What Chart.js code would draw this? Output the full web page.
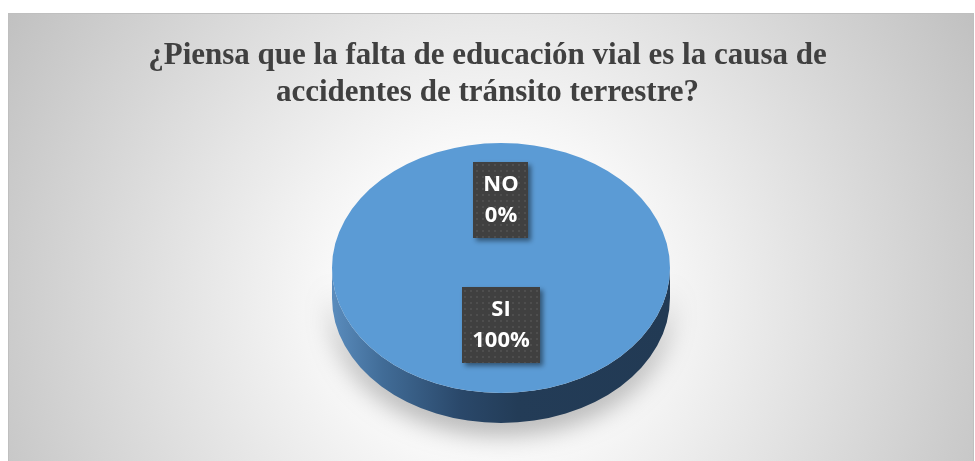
<!DOCTYPE html>
<html>
<head>
<meta charset="utf-8">
<script src="https://cdn.jsdelivr.net/npm/chart.js@4/dist/chart.umd.min.js"></script>
<style>
  html, body { margin: 0; padding: 0; background: #ffffff; }
  #wrap { position: relative; width: 975px; height: 461px; }
</style>
</head>
<body>
<div id="wrap"><canvas id="c" width="975" height="461"></canvas></div>
<script>
const titleLines = ['¿Piensa que la falta de educación vial es la causa de', 'accidentes de tránsito terrestre?'];
const categories = ['SI', 'NO'];
const values = [100, 0];
const percentLabels = ['100%', '0%'];

// visual styling
const FRAME = { left: 8, top: 13, right: 974, bottom: 461 };
const ELLIPSE = { cx: 501, cy: 268, rx: 169, ry: 125, depth: 30 };
const LABEL_SHIFT_Y = -6;

function makeDotPattern(ctx) {
  const p = document.createElement('canvas');
  p.width = 6; p.height = 6;
  const g = p.getContext('2d');
  g.fillStyle = '#404040';
  g.fillRect(0, 0, 6, 6);
  g.fillStyle = '#4e4e4e';
  g.fillRect(2, 2, 2, 2);
  return ctx.createPattern(p, 'repeat');
}

const pie3d = {
  id: 'pie3d',
  beforeDraw(chart) {
    const ctx = chart.ctx;
    ctx.save();
    ctx.fillStyle = '#ffffff';
    ctx.fillRect(0, 0, chart.width, chart.height);
    const g = ctx.createRadialGradient(490, 300, 0, 490, 300, 565);
    g.addColorStop(0, '#ffffff');
    g.addColorStop(0.25, '#fbfbfb');
    g.addColorStop(1, '#c0c0c0');
    ctx.fillStyle = g;
    ctx.fillRect(FRAME.left, FRAME.top, FRAME.right - FRAME.left, FRAME.bottom - FRAME.top);
    ctx.strokeStyle = '#bfbfbf';
    ctx.lineWidth = 1;
    ctx.strokeRect(FRAME.left + 0.5, FRAME.top + 0.5, FRAME.right - FRAME.left - 1, FRAME.bottom - FRAME.top + 2);
    ctx.restore();
  },
  beforeDatasetsDraw(chart) {
    const ctx = chart.ctx;
    const arc = chart.getDatasetMeta(0).data[0];
    const R = arc.outerRadius;
    const { cx, cy, rx, ry, depth } = ELLIPSE;
    ctx.save();
    ctx.shadowColor = 'rgba(0,0,0,0.3)';
    ctx.shadowBlur = 26;
    ctx.shadowOffsetY = 12;
    const sg = ctx.createLinearGradient(cx - rx, 0, cx + rx, 0);
    sg.addColorStop(0, '#5a8cbd');
    sg.addColorStop(0.15, '#416c97');
    sg.addColorStop(0.38, '#2a486a');
    sg.addColorStop(0.55, '#233c57');
    sg.addColorStop(1, '#223a54');
    ctx.fillStyle = sg;
    ctx.beginPath();
    ctx.moveTo(cx - rx, cy);
    ctx.ellipse(cx, cy + depth, rx, ry, 0, Math.PI, 0, true);
    ctx.lineTo(cx + rx, cy);
    ctx.ellipse(cx, cy, rx, ry, 0, 0, Math.PI, false);
    ctx.closePath();
    ctx.fill();
    ctx.restore();
    ctx.save();
    ctx.translate(cx, cy);
    ctx.scale(rx / R, ry / R);
    ctx.translate(-arc.x, -arc.y);
  },
  afterDatasetsDraw(chart) {
    const ctx = chart.ctx;
    ctx.restore();
    const meta = chart.getDatasetMeta(0);
    const first = meta.data[0];
    const R = first.outerRadius;
    const { cx, cy, rx, ry } = ELLIPSE;
    const pattern = makeDotPattern(ctx);
    ctx.save();
    ctx.font = 'bold 22px "Open Sans", Lato, sans-serif';
    meta.data.forEach((el, i) => {
      const p = el.getCenterPoint();
      const x = cx + (p.x - first.x) * rx / R;
      const y = cy + (p.y - first.y) * ry / R + LABEL_SHIFT_Y;
      const lines = [categories[i], percentLabels[i]];
      const w = Math.max(...lines.map(t => ctx.measureText(t).width)) + 20;
      const h = 76;
      ctx.save();
      ctx.shadowColor = 'rgba(0,0,0,0.45)';
      ctx.shadowBlur = 5;
      ctx.shadowOffsetX = 3;
      ctx.shadowOffsetY = 3;
      ctx.fillStyle = pattern;
      ctx.fillRect(Math.round(x - w / 2), Math.round(y - h / 2), Math.round(w), h);
      ctx.restore();
      ctx.fillStyle = '#ffffff';
      ctx.textAlign = 'center';
      ctx.textBaseline = 'middle';
      ctx.fillText(lines[0], x, y - 15);
      ctx.fillText(lines[1], x, y + 16);
    });
    ctx.restore();
  }
};

new Chart(document.getElementById('c'), {
  type: 'pie',
  data: {
    labels: categories,
    datasets: [{
      data: values,
      backgroundColor: ['#5b9bd5', '#ed7d31'],
      borderWidth: 0,
      clip: false
    }]
  },
  options: {
    responsive: false,
    animation: false,
    layout: { padding: { top: 38, bottom: 20, left: 20, right: 20 } },
    plugins: {
      legend: { display: false },
      tooltip: { enabled: false },
      title: {
        display: true,
        text: titleLines,
        color: '#404040',
        font: { family: '"Liberation Serif", "Times New Roman", serif', size: 31, weight: 'bold', lineHeight: 1.18 },
        padding: { top: 0, bottom: 20 }
      }
    }
  },
  plugins: [pie3d]
});
</script>
</body>
</html>
